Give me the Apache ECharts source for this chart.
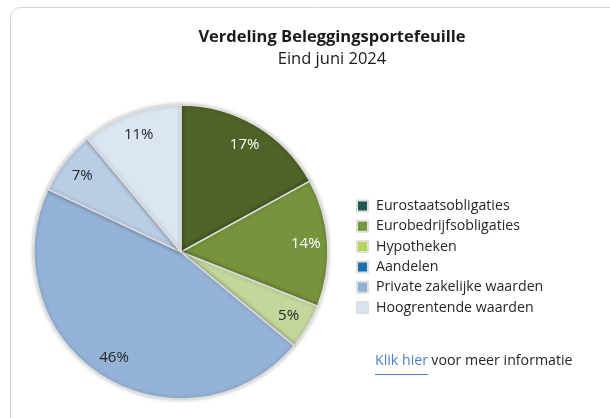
<!DOCTYPE html>
<html>
<head>
<meta charset="utf-8">
<script src="https://cdn.jsdelivr.net/npm/echarts@6/dist/echarts.min.js"></script>
<style>
  html, body { margin: 0; padding: 0; background: #fff; }
  #chart { width: 610px; height: 418px; }
</style>
</head>
<body>
<div id="chart"></div>
<script>
// portfolio split, end of June 2024
var categories = ['Eurostaatsobligaties', 'Eurobedrijfsobligaties', 'Hypotheken', 'Aandelen', 'Private zakelijke waarden', 'Hoogrentende waarden'];
var shares = [17, 14, 5, 46, 7, 11];
var sliceColors = ['#4f6228', '#77933c', '#c3d69b', '#95b3d7', '#b9cde5', '#dce6f2'];
var legendColors = ['#1d5b52', '#6f9a3b', '#b8d656', '#1f6fae', '#8db3d9', '#d7e3f1'];
var labelColors = ['#ffffff', '#ffffff', '#262626', '#262626', '#262626', '#262626'];

var font = 'Open Sans';
var chart = echarts.init(document.getElementById('chart'));

var pieData = categories.map(function (c, i) {
  return { name: c, value: shares[i], itemStyle: { color: sliceColors[i] } };
});
var labelData = categories.map(function (c, i) {
  return { name: c, value: shares[i], label: { color: labelColors[i] } };
});

var option = {
  animation: false,
  title: {
    text: 'Verdeling Beleggingsportefeuille',
    subtext: 'Eind juni 2024',
    left: 327,
    top: 24,
    textAlign: 'center',
    itemGap: 5,
    textStyle: { fontFamily: font, fontSize: 16.5, fontWeight: 'bold', color: '#1a1a1a' },
    subtextStyle: { fontFamily: font, fontSize: 16.5, color: '#1a1a1a' }
  },
  legend: {
    orient: 'vertical',
    left: 356,
    top: 199,
    padding: 0,
    icon: 'rect',
    itemWidth: 11,
    itemHeight: 11,
    itemGap: 6.3,
    selectedMode: false,
    textStyle: { fontFamily: font, fontSize: 14.2, color: '#262626', lineHeight: 14, padding: [0, 0, 0, 3] },
    data: categories.map(function (c, i) {
      return { name: c, itemStyle: { color: legendColors[i] } };
    })
  },
  graphic: [
    {
      type: 'rect',
      silent: true,
      shape: { x: 10.5, y: 7.5, width: 660, height: 460, r: 10 },
      style: { fill: 'none', stroke: '#d4d4d4', lineWidth: 1 }
    },
    {
      type: 'text',
      left: 375,
      top: 354,
      style: {
        text: '{a|Klik hier} {b|voor meer informatie}',
        rich: {
          a: { fontFamily: font, fontSize: 14.2, fill: '#4a7fc4' },
          b: { fontFamily: font, fontSize: 14.2, fill: '#262626' }
        }
      }
    },
    {
      type: 'line',
      silent: true,
      shape: { x1: 375, y1: 374.5, x2: 428, y2: 374.5 },
      style: { stroke: '#4a7fc4', lineWidth: 1 }
    }
  ],
  series: [
    {
      type: 'pie',
      center: [181, 252],
      radius: 147,
      startAngle: 90,
      clockwise: true,
      silent: true,
      label: { show: false },
      labelLine: { show: false },
      itemStyle: {
        borderColor: '#dedede',
        borderWidth: 1.5,
        shadowBlur: 4,
        shadowColor: 'rgba(0,0,0,0.25)'
      },
      data: pieData
    },
    {
      type: 'pie',
      center: [181, 252],
      radius: [97, 147],
      startAngle: 90,
      clockwise: true,
      silent: true,
      legendHoverLink: false,
      itemStyle: { color: 'rgba(0,0,0,0)' },
      label: {
        show: true,
        position: 'inside',
        formatter: '{c}%',
        fontFamily: font,
        fontSize: 15
      },
      labelLine: { show: false },
      data: labelData
    }
  ]
};

chart.setOption(option);
</script>
</body>
</html>
